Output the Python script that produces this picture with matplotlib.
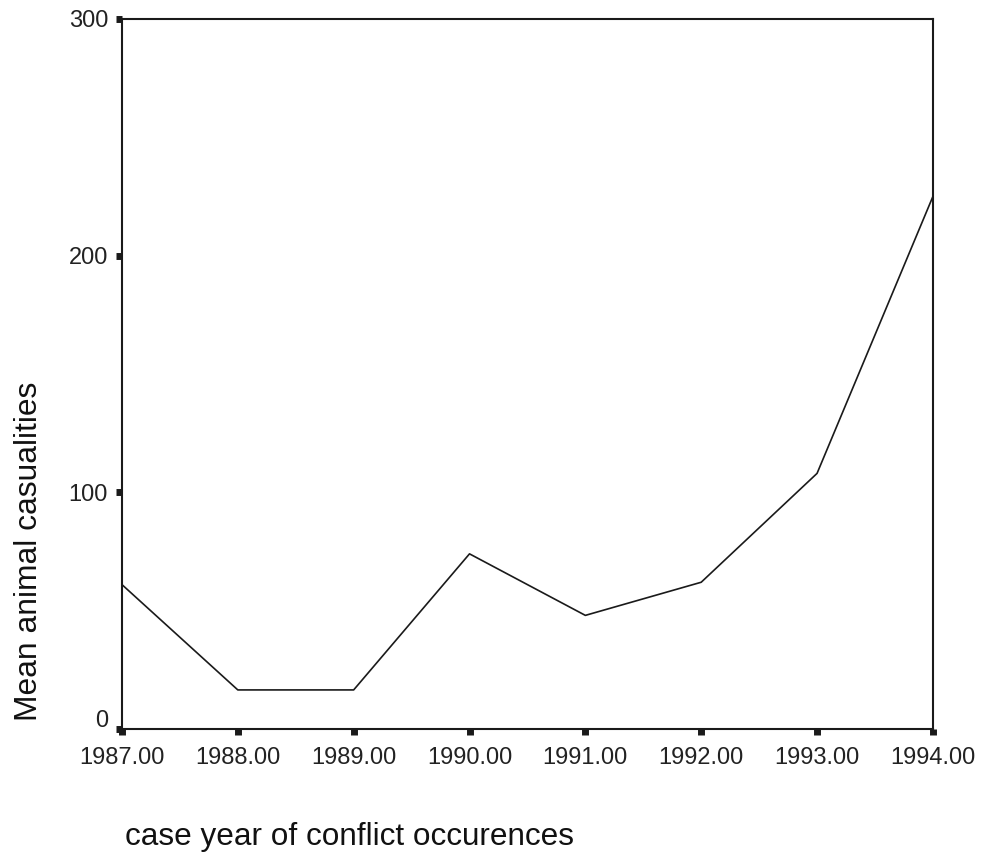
import matplotlib
matplotlib.use("Agg")
import matplotlib.pyplot as plt
import matplotlib.transforms as mtransforms

years = [1987, 1988, 1989, 1990, 1991, 1992, 1993, 1994]
mean_casualties = [61, 16.5, 16.5, 74, 48, 62, 108, 225]
xtick_labels = ["1987.00", "1988.00", "1989.00", "1990.00", "1991.00", "1992.00", "1993.00", "1994.00"]
ytick_values = [0, 100, 200, 300]

plt.rcParams['font.family'] = ['Liberation Sans', 'DejaVu Sans']

fig = plt.figure(figsize=(9.82, 8.52), dpi=100)
ax = fig.add_axes([0.1242, 0.1444, 0.8258, 0.8333])

ax.plot(years, mean_casualties, color='#1a1a1a', linewidth=1.2)

ax.set_xlim(1987, 1994)
ax.set_ylim(0, 300)
ax.set_xticks(years)
ax.set_xticklabels(xtick_labels)
ax.set_yticks(ytick_values)
ax.set_yticklabels([str(v) for v in ytick_values])

for s in ax.spines.values():
    s.set_linewidth(1.5)
    s.set_color('#1a1a1a')

ax.tick_params(axis='both', direction='out', length=4, width=5, color='#1a1a1a',
               labelsize=17, labelcolor='#222222')
ax.tick_params(axis='x', pad=9)
ax.tick_params(axis='y', pad=6)

# the "0" label sits a little above its tick in the original
lbl0 = ax.get_yticklabels()[0]
lbl0.set_transform(lbl0.get_transform() + mtransforms.ScaledTranslation(0, 10 / 100, fig.dpi_scale_trans))

fig.text(0.127, 0.0082, "case year of conflict occurences", fontsize=22.7,
         color='#111111', ha='left', va='baseline')
fig.text(0.030, 0.353, "Mean animal casualities", fontsize=22.9, rotation=90,
         color='#111111', ha='center', va='center')

fig.savefig("out.png", dpi=100)
